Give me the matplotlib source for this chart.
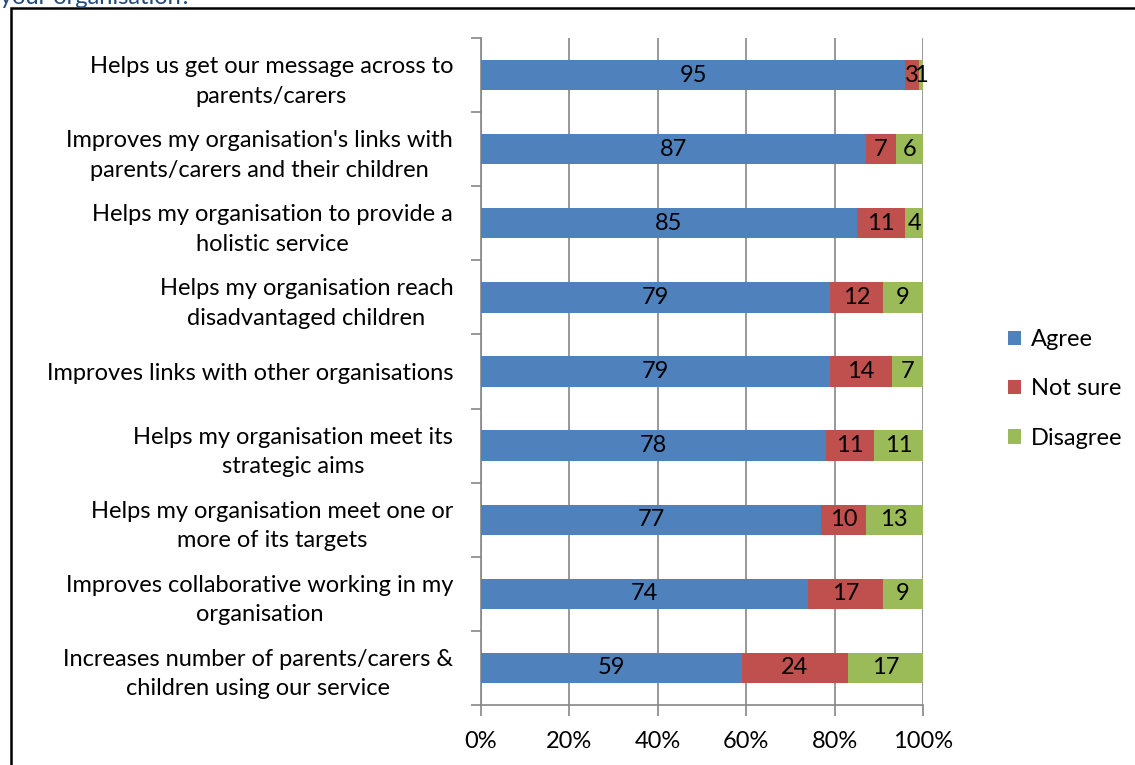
import matplotlib
matplotlib.use("Agg")
import matplotlib.pyplot as plt
from matplotlib.patches import Rectangle
import numpy as np

categories = [
    "Helps us get our message across to\nparents/carers",
    "Improves my organisation's links with\nparents/carers and their children",
    "Helps my organisation to provide a\nholistic service",
    "Helps my organisation reach\ndisadvantaged children",
    "Improves links with other organisations",
    "Helps my organisation meet its\nstrategic aims",
    "Helps my organisation meet one or\nmore of its targets",
    "Improves collaborative working in my\norganisation",
    "Increases number of parents/carers &\nchildren using our service",
]
agree = [95, 87, 85, 79, 79, 78, 77, 74, 59]
not_sure = [3, 7, 11, 12, 14, 11, 10, 17, 24]
disagree = [1, 6, 4, 9, 7, 11, 13, 9, 17]
series_names = ["Agree", "Not sure", "Disagree"]
colors = ["#4F81BD", "#C0504D", "#9BBB59"]
xticks = [0, 20, 40, 60, 80, 100]
xticklabels = ["0%", "20%", "40%", "60%", "80%", "100%"]

plt.rcParams['font.family'] = ['Lato', 'DejaVu Sans']
FS = 17

fig = plt.figure(figsize=(11.35, 7.65), dpi=100)
W, H = 1135, 765
ax = fig.add_axes([481 / W, 1 - 705 / H, (923 - 481) / W, (705 - 38) / H])

data = np.array([agree, not_sure, disagree], dtype=float)
totals = data.sum(axis=0)
pct = data / totals * 100
n = len(categories)
y = np.arange(n)[::-1]
left = np.zeros(n)
for i in range(3):
    ax.barh(y, pct[i], left=left, height=0.41, color=colors[i],
            label=series_names[i], zorder=3)
    for j in range(n):
        ax.text(left[j] + pct[i][j] / 2, y[j], str(int(data[i][j])),
                ha="center", va="center", fontsize=FS, color="black", zorder=4)
    left += pct[i]

ax.set_xlim(0, 100)
ax.set_ylim(-0.5, n - 0.5)
ax.set_xticks(xticks)
ax.set_xticklabels(xticklabels, fontsize=FS)
ax.set_yticks(y)
ax.set_yticklabels(categories, fontsize=FS, linespacing=1.5, multialignment="center")
ax.tick_params(axis="y", length=0, pad=20)
ax.tick_params(axis="x", length=8, color="#868686", width=1.2, pad=11)
# category boundary ticks
ax.set_yticks(np.arange(-0.5, n, 1), minor=True)
ax.tick_params(axis="y", which="minor", length=7, color="#868686", width=1.2)
ax.grid(axis="x", color="#868686", linewidth=1.2, zorder=0)
for side in ["top", "right"]:
    ax.spines[side].set_visible(False)
for side in ["left", "bottom"]:
    ax.spines[side].set_color("#868686")
    ax.spines[side].set_linewidth(1.2)

leg = fig.legend(loc="center left", bbox_to_anchor=(987 / W, 1 - 389 / H),
                 frameon=False, fontsize=FS, handlelength=0.55, handleheight=0.55,
                 handletextpad=0.4, labelspacing=1.2)

fig.add_artist(Rectangle((11 / W, -0.1), 1.2, 1 - 8 / H + 0.1, transform=fig.transFigure,
                         fill=False, edgecolor="black", linewidth=1.8))
fig.text(0, 1 - 4 / H, "your organisation?", ha="left", va="baseline", fontsize=17,
         color="#1F497D")

fig.savefig("out.png", dpi=100)
